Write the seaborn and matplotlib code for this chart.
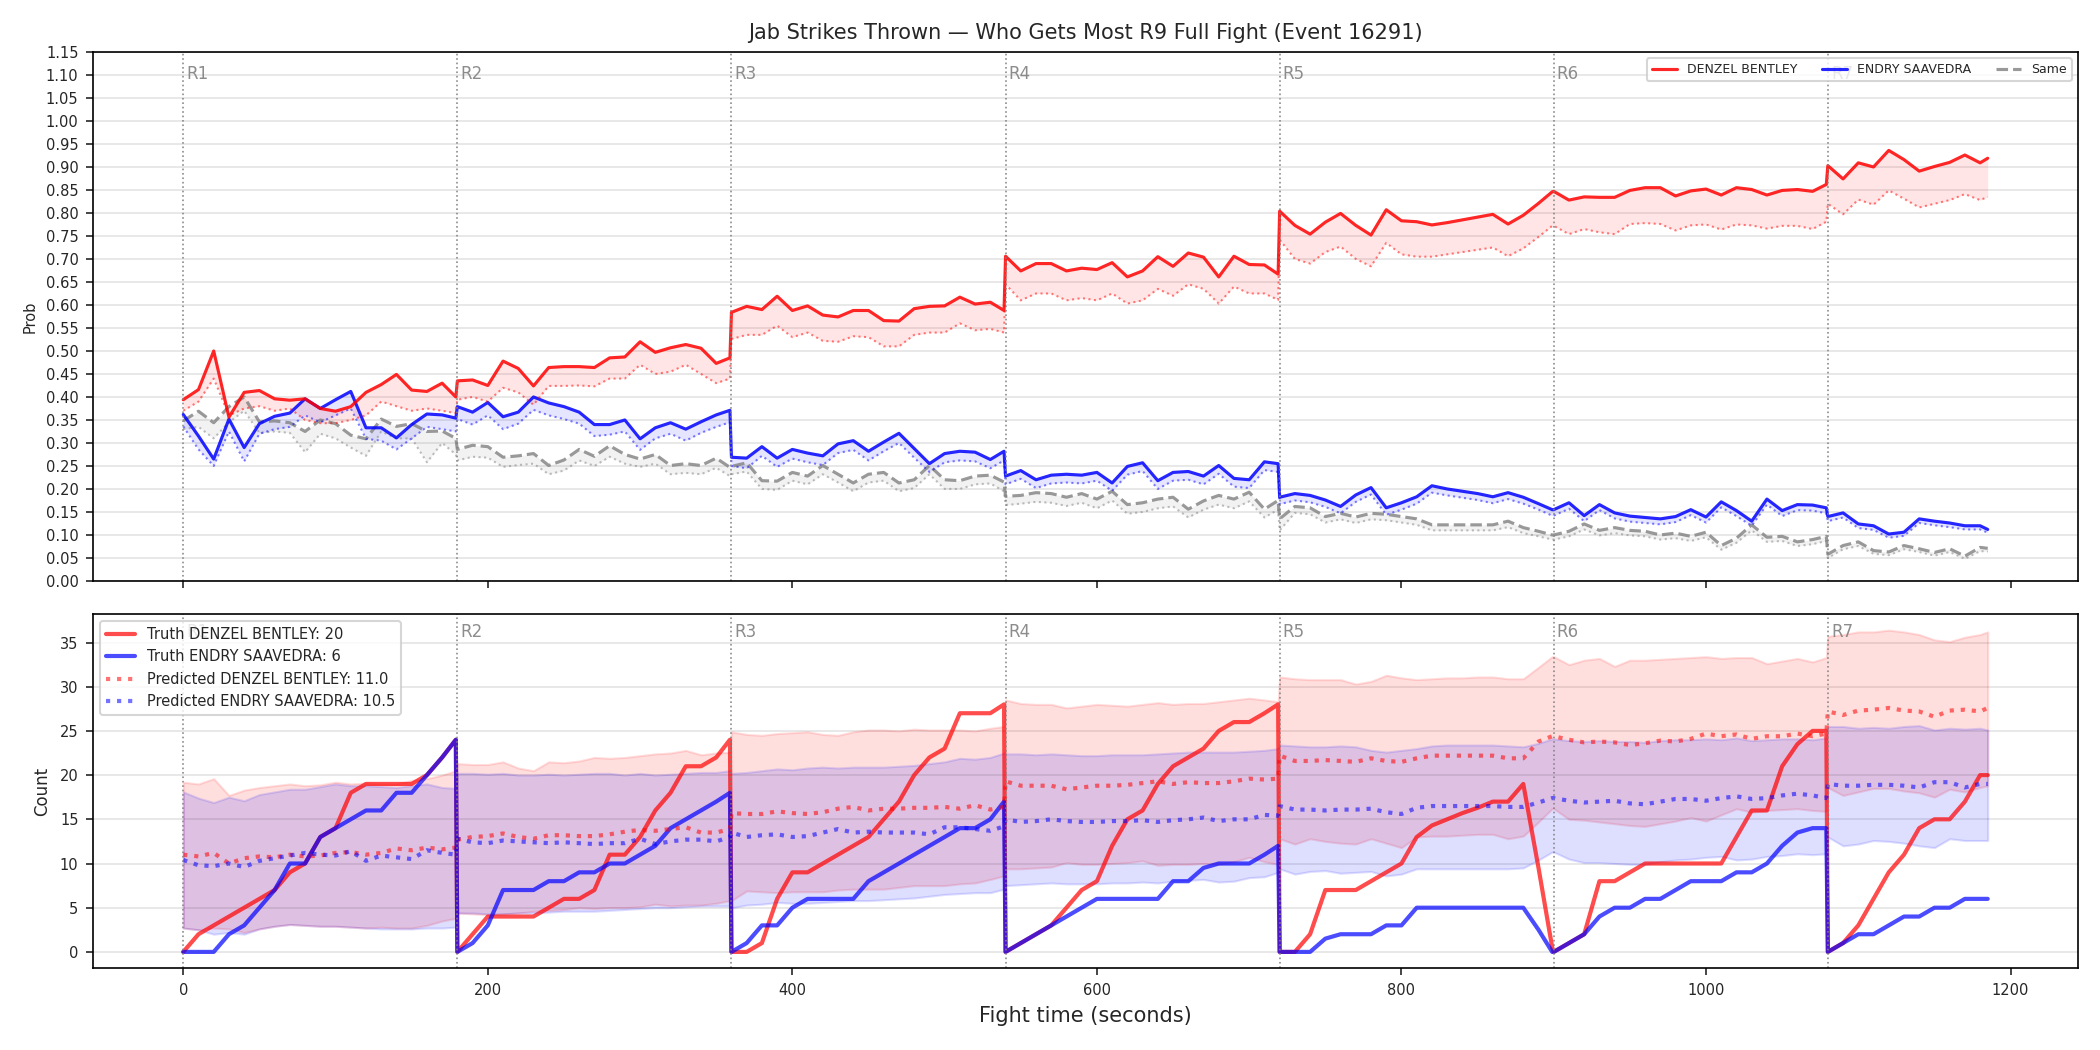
import matplotlib
matplotlib.use("Agg")
import numpy as np
import pandas as pd
import matplotlib.pyplot as plt
from matplotlib.lines import Line2D
from matplotlib.ticker import FormatStrFormatter
import seaborn as sns

# style co ban, dat font sau set_style
sns.set_style("ticks")
plt.rcParams["font.family"] = ["DejaVu Sans"]

# ---------------- data ----------------
rounds = [0, 180, 360, 540, 720, 900, 1080]
round_labels = ["R1", "R2", "R3", "R4", "R5", "R6", "R7"]

t = [0, 10, 20, 30, 40, 50, 60, 70, 80, 90, 100, 110, 120, 130, 140, 150, 160, 170, 179,
     180, 190, 200, 210, 220, 230, 240, 250, 260, 270, 280, 290, 300, 310, 320, 330, 340, 350, 359,
     360, 370, 380, 390, 400, 410, 420, 430, 440, 450, 460, 470, 480, 490, 500, 510, 520, 530, 539,
     540, 550, 560, 570, 580, 590, 600, 610, 620, 630, 640, 650, 660, 670, 680, 690, 700, 710, 719,
     720, 730, 740, 750, 760, 770, 780, 790, 800, 810, 820, 830, 840, 850, 860, 870, 880, 890, 899,
     900, 910, 920, 930, 940, 950, 960, 970, 980, 990, 1000, 1010, 1020, 1030, 1040, 1050, 1060, 1070, 1079,
     1080, 1090, 1100, 1110, 1120, 1130, 1140, 1150, 1160, 1170, 1180, 1185]

# xac suat (panel tren)
p_red = [0.394, 0.416, 0.500, 0.356, 0.410, 0.414, 0.396, 0.393, 0.396, 0.375, 0.369, 0.379, 0.410, 0.427, 0.449, 0.415, 0.412, 0.430, 0.400,
         0.435, 0.437, 0.425, 0.478, 0.462, 0.424, 0.464, 0.466, 0.466, 0.464, 0.485, 0.487, 0.520, 0.497, 0.507, 0.514, 0.506, 0.473, 0.485,
         0.584, 0.597, 0.590, 0.619, 0.588, 0.598, 0.578, 0.574, 0.588, 0.588, 0.566, 0.565, 0.592, 0.597, 0.598, 0.617, 0.602, 0.606, 0.588,
         0.706, 0.674, 0.690, 0.690, 0.674, 0.680, 0.677, 0.692, 0.661, 0.674, 0.705, 0.684, 0.713, 0.704, 0.661, 0.706, 0.688, 0.687, 0.667,
         0.804, 0.773, 0.754, 0.780, 0.799, 0.773, 0.752, 0.807, 0.783, 0.781, 0.774, 0.779, 0.785, 0.791, 0.797, 0.776, 0.795, 0.821, 0.846,
         0.847, 0.828, 0.835, 0.834, 0.834, 0.849, 0.855, 0.855, 0.837, 0.848, 0.852, 0.839, 0.855, 0.851, 0.839, 0.849, 0.851, 0.847, 0.862,
         0.903, 0.874, 0.909, 0.900, 0.936, 0.916, 0.891, 0.901, 0.910, 0.926, 0.909, 0.919]
p_red_lo = [0.370, 0.390, 0.440, 0.360, 0.375, 0.380, 0.370, 0.375, 0.350, 0.343, 0.343, 0.350, 0.360, 0.390, 0.380, 0.370, 0.375, 0.370, 0.365,
            0.394, 0.400, 0.390, 0.420, 0.410, 0.383, 0.424, 0.424, 0.425, 0.423, 0.440, 0.440, 0.470, 0.450, 0.455, 0.470, 0.450, 0.430, 0.440,
            0.526, 0.535, 0.535, 0.555, 0.530, 0.540, 0.522, 0.520, 0.532, 0.530, 0.510, 0.510, 0.535, 0.540, 0.540, 0.560, 0.545, 0.548, 0.540,
            0.645, 0.610, 0.625, 0.625, 0.610, 0.615, 0.610, 0.625, 0.603, 0.610, 0.635, 0.620, 0.645, 0.635, 0.603, 0.640, 0.625, 0.625, 0.611,
            0.742, 0.700, 0.690, 0.715, 0.727, 0.700, 0.684, 0.735, 0.710, 0.705, 0.705, 0.710, 0.715, 0.720, 0.725, 0.706, 0.723, 0.748, 0.772,
            0.772, 0.754, 0.765, 0.758, 0.754, 0.776, 0.778, 0.776, 0.762, 0.773, 0.775, 0.764, 0.775, 0.773, 0.766, 0.772, 0.772, 0.765, 0.781,
            0.820, 0.797, 0.829, 0.818, 0.849, 0.831, 0.812, 0.820, 0.828, 0.841, 0.828, 0.835]
p_blue = [0.362, 0.315, 0.265, 0.352, 0.290, 0.342, 0.358, 0.365, 0.396, 0.375, 0.394, 0.412, 0.333, 0.333, 0.311, 0.340, 0.363, 0.361, 0.354,
          0.379, 0.367, 0.388, 0.357, 0.367, 0.400, 0.387, 0.379, 0.367, 0.340, 0.340, 0.350, 0.309, 0.333, 0.344, 0.330, 0.346, 0.361, 0.371,
          0.269, 0.267, 0.292, 0.267, 0.286, 0.278, 0.272, 0.298, 0.305, 0.282, 0.302, 0.321, 0.288, 0.255, 0.277, 0.282, 0.280, 0.264, 0.282,
          0.228, 0.240, 0.220, 0.230, 0.232, 0.230, 0.236, 0.213, 0.249, 0.257, 0.218, 0.236, 0.238, 0.228, 0.251, 0.223, 0.220, 0.259, 0.255,
          0.182, 0.190, 0.186, 0.176, 0.162, 0.187, 0.203, 0.159, 0.170, 0.183, 0.207, 0.200, 0.195, 0.190, 0.183, 0.192, 0.182, 0.168, 0.155,
          0.155, 0.170, 0.142, 0.166, 0.148, 0.141, 0.138, 0.135, 0.140, 0.155, 0.139, 0.172, 0.153, 0.130, 0.178, 0.153, 0.166, 0.165, 0.159,
          0.140, 0.148, 0.124, 0.120, 0.102, 0.106, 0.135, 0.130, 0.126, 0.120, 0.120, 0.112]
p_blue_lo = [0.336, 0.286, 0.250, 0.325, 0.260, 0.320, 0.330, 0.335, 0.360, 0.345, 0.360, 0.375, 0.309, 0.305, 0.286, 0.310, 0.335, 0.330, 0.325,
             0.352, 0.340, 0.360, 0.330, 0.342, 0.372, 0.360, 0.352, 0.342, 0.315, 0.318, 0.325, 0.285, 0.310, 0.320, 0.305, 0.322, 0.335, 0.345,
             0.250, 0.245, 0.272, 0.248, 0.266, 0.258, 0.252, 0.278, 0.285, 0.262, 0.282, 0.300, 0.268, 0.237, 0.258, 0.262, 0.260, 0.245, 0.262,
             0.210, 0.222, 0.202, 0.212, 0.214, 0.212, 0.218, 0.196, 0.231, 0.239, 0.200, 0.218, 0.220, 0.210, 0.233, 0.205, 0.202, 0.241, 0.237,
             0.167, 0.175, 0.171, 0.161, 0.147, 0.172, 0.188, 0.144, 0.155, 0.168, 0.192, 0.186, 0.181, 0.176, 0.169, 0.178, 0.168, 0.155, 0.142,
             0.142, 0.157, 0.130, 0.154, 0.136, 0.129, 0.126, 0.123, 0.128, 0.143, 0.127, 0.160, 0.141, 0.120, 0.166, 0.141, 0.154, 0.153, 0.147,
             0.130, 0.138, 0.115, 0.111, 0.094, 0.098, 0.126, 0.121, 0.117, 0.112, 0.112, 0.105]
p_same = [0.348, 0.369, 0.344, 0.379, 0.400, 0.346, 0.348, 0.344, 0.325, 0.350, 0.342, 0.317, 0.309, 0.352, 0.336, 0.342, 0.325, 0.326, 0.310,
          0.286, 0.295, 0.292, 0.269, 0.272, 0.277, 0.251, 0.263, 0.286, 0.271, 0.294, 0.275, 0.265, 0.275, 0.251, 0.255, 0.251, 0.267, 0.247,
          0.249, 0.257, 0.218, 0.217, 0.236, 0.228, 0.251, 0.232, 0.213, 0.232, 0.236, 0.213, 0.220, 0.251, 0.220, 0.218, 0.228, 0.230, 0.215,
          0.184, 0.186, 0.192, 0.190, 0.182, 0.190, 0.178, 0.195, 0.166, 0.170, 0.178, 0.182, 0.156, 0.174, 0.186, 0.178, 0.193, 0.156, 0.175,
          0.135, 0.162, 0.159, 0.140, 0.147, 0.139, 0.147, 0.145, 0.140, 0.135, 0.122, 0.122, 0.122, 0.122, 0.122, 0.130, 0.116, 0.108, 0.100,
          0.100, 0.108, 0.124, 0.110, 0.116, 0.110, 0.108, 0.100, 0.104, 0.097, 0.106, 0.077, 0.093, 0.122, 0.095, 0.097, 0.085, 0.090, 0.097,
          0.058, 0.077, 0.085, 0.066, 0.063, 0.077, 0.070, 0.062, 0.070, 0.054, 0.073, 0.071]
p_same_lo = [0.330, 0.335, 0.310, 0.345, 0.370, 0.322, 0.325, 0.322, 0.280, 0.320, 0.310, 0.290, 0.272, 0.325, 0.310, 0.310, 0.258, 0.300, 0.275,
             0.262, 0.270, 0.268, 0.248, 0.252, 0.255, 0.232, 0.240, 0.262, 0.250, 0.270, 0.255, 0.248, 0.255, 0.232, 0.235, 0.232, 0.246, 0.228,
             0.232, 0.238, 0.200, 0.198, 0.218, 0.210, 0.232, 0.214, 0.195, 0.214, 0.218, 0.195, 0.202, 0.232, 0.200, 0.200, 0.210, 0.212, 0.195,
             0.165, 0.168, 0.172, 0.170, 0.163, 0.170, 0.158, 0.175, 0.146, 0.150, 0.158, 0.162, 0.138, 0.155, 0.166, 0.158, 0.173, 0.138, 0.155,
             0.110, 0.148, 0.145, 0.127, 0.134, 0.126, 0.134, 0.132, 0.127, 0.122, 0.110, 0.110, 0.110, 0.110, 0.110, 0.117, 0.104, 0.097, 0.090,
             0.090, 0.097, 0.112, 0.099, 0.104, 0.099, 0.097, 0.090, 0.093, 0.087, 0.095, 0.068, 0.083, 0.110, 0.085, 0.087, 0.076, 0.080, 0.087,
             0.050, 0.069, 0.076, 0.059, 0.056, 0.069, 0.063, 0.055, 0.063, 0.048, 0.065, 0.064]

# so cu dam (panel duoi)
truth_red = [0, 2, 3, 4, 5, 6, 7, 9, 10, 13, 14, 18, 19, 19, 19, 19, 20, 22, 24,
             0, 2, 4, 4, 4, 4, 5, 6, 6, 7, 11, 11, 13, 16, 18, 21, 21, 22, 24,
             0, 0, 1, 6, 9, 9, 10, 11, 12, 13, 15, 17, 20, 22, 23, 27, 27, 27, 28,
             0, 1, 2, 3, 5, 7, 8, 12, 15, 16, 19, 21, 22, 23, 25, 26, 26, 27, 28,
             0, 0, 2, 7, 7, 7, 8, 9, 10, 13, 14.3, 15, 15.7, 16.3, 17, 17, 19, 9.5, 0.5,
             0, 1, 2, 8, 8, 9, 10, 10, 10, 10, 10, 10, 13, 16, 16, 21, 23.5, 25, 25,
             0, 1, 3, 6, 9, 11, 14, 15, 15, 17, 20, 20]
truth_blue = [0, 0, 0, 2, 3, 5, 7, 10, 10, 13, 14, 15, 16, 16, 18, 18, 20, 22, 24,
              0, 1, 3, 7, 7, 7, 8, 8, 9, 9, 10, 10, 11, 12, 14, 15, 16, 17, 18,
              0, 1, 3, 3, 5, 6, 6, 6, 6, 8, 9, 10, 11, 12, 13, 14, 14, 15, 17,
              0, 1, 2, 3, 4, 5, 6, 6, 6, 6, 6, 8, 8, 9.5, 10, 10, 10, 11, 12,
              0, 0, 0, 1.5, 2, 2, 2, 3, 3, 5, 5, 5, 5, 5, 5, 5, 5, 2.5, 0,
              0, 1, 2, 4, 5, 5, 6, 6, 7, 8, 8, 8, 9, 9, 10, 12, 13.5, 14, 14,
              0, 1, 2, 2, 3, 4, 4, 5, 5, 6, 6, 6]
pred_red = [11.0, 10.8, 11.2, 10.0, 10.6, 10.8, 10.7, 11.0, 10.8, 10.9, 11.2, 11.3, 11.0, 11.2, 11.7, 11.5, 11.8, 11.6, 11.8,
            12.7, 13.0, 13.1, 13.4, 13.0, 12.8, 13.2, 13.2, 13.1, 13.1, 13.3, 13.6, 13.8, 13.7, 13.9, 14.1, 13.5, 13.5, 13.9,
            15.7, 15.6, 15.6, 15.9, 15.7, 15.6, 15.8, 16.2, 16.4, 16.0, 16.2, 16.2, 16.3, 16.3, 16.4, 16.2, 16.6, 16.1, 16.4,
            19.3, 18.8, 18.8, 18.8, 18.4, 18.6, 18.8, 18.8, 18.9, 19.1, 19.3, 19.0, 19.2, 19.1, 19.1, 19.3, 19.6, 19.5, 19.6,
            22.2, 21.6, 21.6, 21.7, 21.6, 21.5, 21.9, 21.6, 21.5, 21.9, 22.2, 22.2, 22.2, 22.2, 22.2, 21.9, 21.9, 23.8, 24.4,
            24.4, 24.0, 23.7, 23.8, 23.7, 23.4, 23.6, 23.9, 23.8, 24.1, 24.7, 24.4, 24.6, 24.1, 24.4, 24.4, 24.7, 24.4, 24.7,
            27.2, 26.8, 27.3, 27.4, 27.6, 27.3, 27.2, 26.6, 27.3, 27.4, 27.2, 27.6]
pred_blue = [10.4, 9.8, 9.7, 10.0, 9.6, 10.3, 10.6, 10.9, 11.2, 11.0, 10.9, 11.4, 10.3, 10.9, 10.7, 10.5, 11.5, 11.2, 11.0,
             12.8, 12.4, 12.3, 12.6, 12.5, 12.4, 12.3, 12.4, 12.3, 12.2, 12.3, 12.3, 12.8, 12.2, 12.5, 12.7, 12.7, 12.5, 13.0,
             13.5, 13.0, 13.2, 13.3, 13.0, 13.1, 13.5, 13.9, 13.5, 13.6, 13.5, 13.5, 13.5, 13.3, 14.1, 14.1, 13.9, 13.7, 14.2,
             15.0, 14.7, 14.8, 15.0, 14.8, 14.7, 14.7, 14.8, 14.8, 14.9, 14.7, 14.9, 15.0, 15.2, 14.8, 15.0, 15.0, 15.5, 15.4,
             16.5, 16.1, 16.1, 16.0, 16.1, 16.1, 16.2, 15.8, 15.6, 16.3, 16.5, 16.5, 16.5, 16.5, 16.5, 16.4, 16.4, 16.9, 17.4,
             17.4, 17.1, 16.9, 17.0, 17.1, 16.8, 16.7, 17.0, 17.3, 17.3, 17.1, 17.4, 17.6, 17.3, 17.4, 17.7, 17.9, 17.7, 17.4,
             19.0, 18.8, 18.8, 18.9, 18.9, 18.8, 18.6, 19.2, 19.2, 18.6, 19.0, 19.0]
red_hi = [19.2, 19.0, 19.6, 17.7, 18.3, 18.6, 18.8, 19.0, 18.8, 18.9, 19.2, 19.0, 19.1, 19.0, 19.0, 19.4, 19.6, 20.0, 20.5,
          21.3, 21.2, 21.2, 21.5, 20.8, 20.5, 21.5, 21.4, 21.6, 22.0, 21.9, 22.0, 22.2, 22.4, 22.5, 22.8, 22.3, 22.5, 22.6,
          24.9, 24.6, 24.5, 24.7, 24.8, 24.9, 24.6, 24.5, 24.9, 25.1, 25.1, 25.0, 25.2, 25.1, 25.1, 25.1, 25.0, 25.3, 25.5,
          28.5, 28.1, 28.0, 28.0, 27.6, 27.8, 28.0, 27.9, 27.8, 28.0, 28.2, 28.0, 28.1, 28.1, 28.3, 28.5, 28.7, 28.5, 28.3,
          31.1, 30.9, 30.8, 30.8, 30.8, 30.3, 30.6, 31.3, 31.0, 30.8, 30.9, 31.0, 31.0, 31.1, 31.1, 30.9, 30.9, 32.2, 33.4,
          33.4, 32.5, 33.0, 33.2, 32.3, 33.0, 33.0, 33.1, 33.2, 33.3, 33.4, 33.2, 33.3, 33.3, 32.6, 32.9, 33.2, 32.8, 33.3,
          35.7, 35.9, 36.2, 36.2, 36.4, 36.2, 35.9, 35.3, 35.1, 35.6, 35.9, 36.2]
red_lo = [2.7, 2.5, 2.7, 2.6, 2.2, 2.6, 2.9, 3.1, 3.0, 2.9, 2.9, 2.8, 2.7, 2.8, 2.7, 2.7, 3.0, 3.5, 3.8,
          4.4, 4.3, 4.2, 4.3, 4.4, 4.6, 4.7, 4.8, 5.0, 4.9, 5.0, 5.0, 5.1, 5.4, 5.2, 5.3, 5.3, 5.5, 5.8,
          5.8, 6.9, 6.8, 6.7, 6.8, 6.8, 6.8, 7.0, 7.1, 7.1, 7.1, 7.3, 7.5, 7.5, 7.5, 7.7, 7.8, 8.2, 8.6,
          9.4, 9.4, 9.5, 9.6, 10.1, 9.9, 9.9, 10.0, 10.1, 10.3, 9.8, 9.9, 9.9, 10.0, 9.9, 10.2, 10.7, 10.2, 9.9,
          12.8, 12.2, 12.8, 12.5, 12.3, 12.2, 12.8, 12.3, 11.8, 13.0, 13.1, 13.1, 13.2, 13.3, 13.3, 12.8, 13.1, 14.7, 16.2,
          16.2, 15.0, 14.9, 14.7, 14.5, 14.3, 14.2, 14.5, 14.8, 15.2, 14.8, 15.5, 16.2, 15.8, 16.0, 16.1, 16.2, 16.0, 15.9,
          18.6, 17.7, 18.1, 18.5, 18.5, 18.2, 18.0, 17.5, 18.4, 18.1, 18.6, 18.8]
blue_hi = [18.1, 17.4, 16.9, 17.5, 17.1, 17.8, 18.1, 18.4, 18.4, 18.7, 19.0, 18.8, 18.8, 18.7, 18.6, 18.8, 19.0, 18.6, 18.5,
           20.2, 20.2, 20.1, 20.2, 20.0, 20.0, 20.1, 20.0, 20.1, 20.2, 20.2, 20.0, 20.2, 20.0, 20.1, 20.2, 20.3, 20.3, 20.5,
           20.2, 20.3, 20.5, 20.7, 20.6, 20.8, 20.9, 20.8, 20.9, 20.9, 20.9, 21.0, 21.1, 21.3, 21.5, 21.9, 21.8, 22.0, 22.5,
           22.4, 22.4, 22.3, 22.4, 22.3, 22.2, 22.2, 22.3, 22.3, 22.3, 22.4, 22.5, 22.6, 22.6, 22.6, 22.6, 22.7, 22.8, 23.0,
           23.4, 23.3, 23.2, 23.2, 23.3, 23.2, 22.8, 22.6, 22.8, 23.0, 23.3, 23.4, 23.4, 23.4, 23.4, 23.3, 23.2, 23.6, 24.1,
           24.1, 23.9, 23.8, 23.9, 23.8, 23.8, 23.7, 23.9, 24.0, 24.0, 24.1, 24.0, 24.2, 23.9, 24.0, 24.1, 24.1, 24.0, 24.2,
           25.5, 25.5, 25.3, 25.4, 25.3, 25.5, 25.6, 25.1, 25.3, 25.2, 25.3, 25.1]
blue_lo = [2.7, 2.5, 2.0, 2.2, 2.0, 2.6, 2.9, 3.1, 3.0, 2.9, 2.9, 2.8, 2.7, 2.6, 2.6, 2.6, 2.7, 2.7, 2.8,
           4.4, 4.4, 4.3, 4.3, 4.4, 4.4, 4.5, 4.6, 4.6, 4.6, 4.7, 4.8, 4.9, 5.0, 5.0, 5.1, 5.2, 5.2, 5.2,
           5.0, 5.3, 5.4, 5.6, 5.5, 5.5, 5.6, 5.7, 5.8, 5.8, 5.9, 6.0, 6.1, 6.3, 6.5, 6.6, 6.7, 6.7, 7.1,
           7.5, 7.6, 7.7, 7.8, 7.7, 7.7, 7.7, 7.8, 7.8, 7.9, 7.8, 8.0, 8.1, 8.2, 7.9, 8.0, 8.4, 8.5, 9.0,
           9.4, 8.8, 9.1, 9.2, 8.9, 9.0, 9.1, 8.6, 8.8, 9.4, 9.4, 9.4, 9.4, 9.4, 9.4, 9.4, 9.5, 10.4, 11.3,
           11.3, 10.5, 10.1, 10.1, 10.0, 9.9, 9.9, 10.2, 10.4, 10.5, 10.7, 10.8, 10.4, 10.5, 10.8, 10.9, 11.1, 11.0, 11.1,
           13.0, 12.0, 12.2, 12.6, 12.5, 12.3, 12.0, 11.8, 12.8, 12.6, 12.6, 12.6]

df = pd.DataFrame({
    "t": t, "p_red": p_red, "p_red_lo": p_red_lo, "p_blue": p_blue, "p_blue_lo": p_blue_lo,
    "p_same": p_same, "p_same_lo": p_same_lo,
    "truth_red": truth_red, "truth_blue": truth_blue, "pred_red": pred_red, "pred_blue": pred_blue,
    "red_hi": red_hi, "red_lo": red_lo, "blue_hi": blue_hi, "blue_lo": blue_lo,
})

# ---------------- figure ----------------
fig = plt.figure(figsize=(14, 7), dpi=150)
ax1 = fig.add_axes([0.0443, 0.4467, 0.9452, 0.5038])
ax2 = fig.add_axes([0.0443, 0.0781, 0.9452, 0.3371], sharex=ax1)

# panel tren: xac suat
for col, lo, c, ls in [("p_same", "p_same_lo", "gray", "--"),
                       ("p_blue", "p_blue_lo", "blue", "-"),
                       ("p_red", "p_red_lo", "red", "-")]:
    ax1.fill_between(df["t"], df[lo], df[col], color=c, alpha=0.1, lw=0)
    sns.lineplot(data=df, x="t", y=lo, ax=ax1, color=c, alpha=0.5, lw=1, linestyle=":", errorbar=None)
    sns.lineplot(data=df, x="t", y=col, ax=ax1, color=c, alpha=0.85 if c != "gray" else 0.8,
                 lw=1.5, linestyle=ls, errorbar=None)

# panel duoi: so cu dam
ax2.fill_between(df["t"], df["red_lo"], df["red_hi"], color="red", alpha=0.13, lw=1)
ax2.fill_between(df["t"], df["blue_lo"], df["blue_hi"], color="blue", alpha=0.13, lw=1)
sns.lineplot(data=df, x="t", y="truth_red", ax=ax2, color="red", alpha=0.7, lw=2, errorbar=None)
sns.lineplot(data=df, x="t", y="truth_blue", ax=ax2, color="blue", alpha=0.7, lw=2, errorbar=None)
sns.lineplot(data=df, x="t", y="pred_red", ax=ax2, color="red", alpha=0.55, lw=2, linestyle=":", errorbar=None)
sns.lineplot(data=df, x="t", y="pred_blue", ax=ax2, color="blue", alpha=0.55, lw=2, linestyle=":", errorbar=None)

# vach hiep dau
for ax in (ax1, ax2):
    for s, lab in zip(rounds, round_labels):
        ax.axvline(s, color="gray", ls=":", lw=0.8, alpha=0.9)
        ax.text(s + 2, 0.975, lab, transform=ax.get_xaxis_transform(), va="top", ha="left",
                fontsize=8, color="gray", alpha=0.9)
    ax.grid(axis="y", color="#b0b0b0", alpha=0.35, lw=0.8)
    ax.grid(axis="x", visible=False)
    ax.tick_params(labelsize=7)
    for sp in ax.spines.values():
        sp.set_color("black")

ax1.set_ylim(0, 1.15)
ax1.set_yticks(np.arange(0, 1.151, 0.05))
ax1.yaxis.set_major_formatter(FormatStrFormatter("%.2f"))
ax1.set_ylabel("Prob", fontsize=7)
ax1.set_xlabel("")
ax1.tick_params(labelbottom=False)
ax1.set_title("Jab Strikes Thrown \u2014 Who Gets Most R9 Full Fight (Event 16291)", fontsize=10, pad=6)

ax2.set_ylabel("Count", fontsize=8)
ax2.set_xlabel("Fight time (seconds)", fontsize=10)
ax2.set_xticks([0, 200, 400, 600, 800, 1000, 1200])

h1 = [Line2D([], [], color="red", alpha=0.85, lw=1.5),
      Line2D([], [], color="blue", alpha=0.85, lw=1.5),
      Line2D([], [], color="gray", alpha=0.8, lw=1.5, ls="--")]
ax1.legend(h1, ["DENZEL BENTLEY", "ENDRY SAAVEDRA", "Same"], loc="upper right", ncol=3, fontsize=6)

h2 = [Line2D([], [], color="red", alpha=0.7, lw=2),
      Line2D([], [], color="blue", alpha=0.7, lw=2),
      Line2D([], [], color="red", alpha=0.55, lw=2, ls=":"),
      Line2D([], [], color="blue", alpha=0.55, lw=2, ls=":")]
ax2.legend(h2, ["Truth DENZEL BENTLEY: 20", "Truth ENDRY SAAVEDRA: 6",
                "Predicted DENZEL BENTLEY: 11.0", "Predicted ENDRY SAAVEDRA: 10.5"],
           loc="upper left", fontsize=7)

fig.savefig("out.png", dpi=150)
